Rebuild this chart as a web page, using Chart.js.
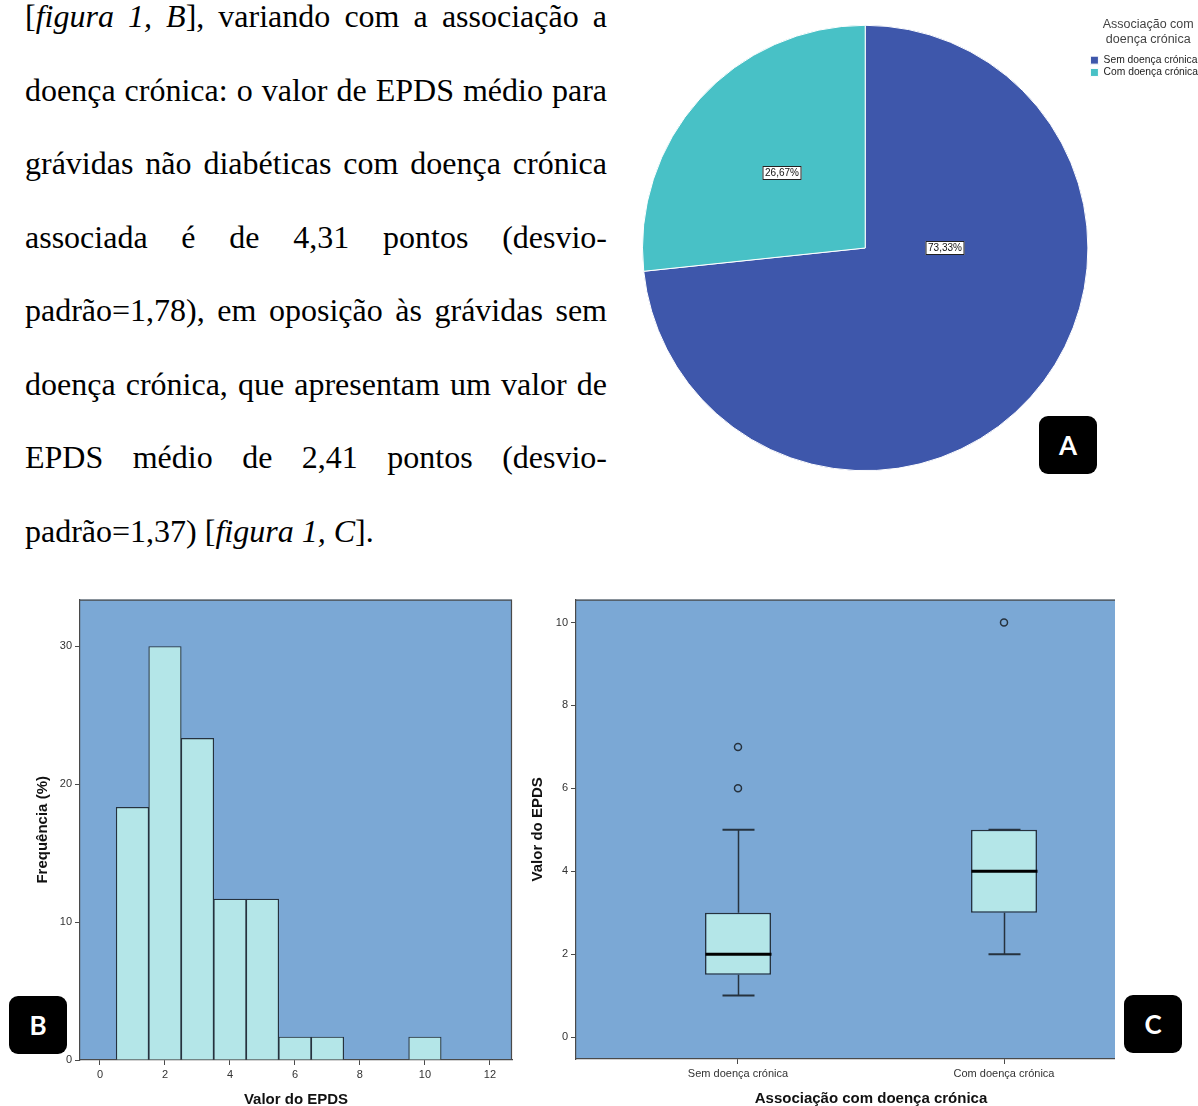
<!DOCTYPE html>
<html lang="pt">
<head>
<meta charset="utf-8">
<title>EPDS e doença crónica</title>
<script src="https://cdn.jsdelivr.net/npm/chart.js@4.4.1/dist/chart.umd.min.js"></script>
<style>
  html, body { margin: 0; padding: 0; background: #fff; }
  body { position: relative; width: 1198px; height: 1106px; overflow: hidden; }
  #texto { position: absolute; left: 25px; top: -20px; width: 582px;
           font-family: "Liberation Serif", "Times New Roman", serif; font-size: 32px;
           line-height: 73.57px; color: #000; }
  #texto .ln { height: 73.57px; text-align: justify; text-align-last: justify; }
  #texto .ln.fim { text-align: left; text-align-last: left; }
  .quadro { position: absolute; overflow: hidden; }
  .quadro canvas { display: block; }
  .badge { position: absolute; width: 58px; height: 58px; background: #000; border-radius: 9px;
           color: #fff; font: bold 26px Lato, "Open Sans", sans-serif;
           display: flex; align-items: center; justify-content: center; }
</style>
</head>
<body>

<div id="texto">
  <div class="ln">[<i>figura 1, B</i>], variando com a associação a</div>
  <div class="ln">doença crónica: o valor de EPDS médio para</div>
  <div class="ln">grávidas não diabéticas com doença crónica</div>
  <div class="ln">associada é de 4,31 pontos (desvio-</div>
  <div class="ln">padrão=1,78), em oposição às grávidas sem</div>
  <div class="ln">doença crónica, que apresentam um valor de</div>
  <div class="ln">EPDS médio de 2,41 pontos (desvio-</div>
  <div class="ln fim">padrão=1,37) [<i>figura 1, C</i>].</div>
</div>

<div class="quadro" style="left:636px; top:0px; width:572px; height:496px;">
  <canvas id="pizza" width="572" height="496"></canvas>
</div>
<div class="quadro" style="left:0px; top:590px; width:520px; height:520px;">
  <canvas id="histo" width="520" height="520"></canvas>
</div>
<div class="quadro" style="left:520px; top:590px; width:595px; height:520px;">
  <canvas id="caixas" width="678" height="520"></canvas>
</div>

<div class="badge" style="left:1039px; top:416px;">A</div>
<div class="badge" style="left:9px; top:996px;">B</div>
<div class="badge" style="left:1124px; top:995px;">C</div>

<script>
Chart.defaults.font.family = '"Liberation Sans", Arial, sans-serif';
Chart.defaults.color = '#333';
Chart.defaults.animation = false;

// pie: pregnant women with / without chronic disease
const chronicLabels = ['Sem doença crónica', 'Com doença crónica'];
const chronicCounts = [44, 16];

// histogram of EPDS scores (% of 60 women)
const epdsScores = [1, 2, 3, 4, 5, 6, 7, 8, 9, 10];
const epdsFreqPct = [18.33, 30, 23.33, 11.67, 11.67, 1.67, 1.67, 0, 0, 1.67];
const epdsTicks = [0, 2, 4, 6, 8, 10, 12];
const freqTicks = [0, 10, 20, 30];

// boxplot of EPDS by chronic disease
const groupNames = ['Sem doença crónica', 'Com doença crónica'];
const groupPos = [1, 2];
const whiskerLow = [1, 2];
const quart1 = [1.5, 3];
const medians = [2, 4];
const quart3 = [3, 5];
const whiskerHigh = [5, 5];
const outlierVals = [[6, 7], [10]];
const valueTicks = [0, 2, 4, 6, 8, 10];

const PIE_COLORS = ['#3e57ab', '#48c1c6'];
const PLOT_BG = '#7ba8d5';
const BAR_FILL = '#b4e6e8';
const EDGE = '#26323e';
const AXIS = '#4a4a4a';

// blue plot background + top/right frame lines (SPSS look)
const plotFrame = {
  id: 'plotFrame',
  beforeDraw(chart) {
    const a = chart.chartArea, ctx = chart.ctx;
    ctx.save();
    ctx.fillStyle = PLOT_BG;
    ctx.fillRect(a.left, a.top, a.right - a.left, a.bottom - a.top);
    ctx.restore();
  },
  afterDraw(chart) {
    const a = chart.chartArea, ctx = chart.ctx;
    ctx.save();
    ctx.strokeStyle = AXIS;
    ctx.lineWidth = 1.2;
    ctx.beginPath();
    ctx.moveTo(a.left, a.top + 0.5);
    ctx.lineTo(a.right - 0.5, a.top + 0.5);
    ctx.lineTo(a.right - 0.5, a.bottom);
    ctx.stroke();
    ctx.restore();
  }
};

function axisTitle(text, padding) {
  return { display: true, text: text, color: '#111', font: { size: 15, weight: 'bold' }, padding: padding };
}
function tickGrid() {
  return { display: true, drawOnChartArea: false, offset: false, tickLength: 5, color: AXIS, lineWidth: 1 };
}

// ---- A: pie ----
const pieLabels = {
  id: 'pieLabels',
  afterDatasetsDraw(chart, args, opts) {
    const ctx = chart.ctx;
    const total = chronicCounts.reduce((a, b) => a + b, 0);
    chart.getDatasetMeta(0).data.forEach((arc, i) => {
      const p = arc.getProps(['x', 'y', 'startAngle', 'endAngle', 'outerRadius'], true);
      const spot = opts.spots[i];
      const ang = spot.angle == null ? (p.startAngle + p.endAngle) / 2 : spot.angle;
      const px = Math.round(p.x + Math.cos(ang) * p.outerRadius * spot.radius);
      const py = Math.round(p.y + Math.sin(ang) * p.outerRadius * spot.radius);
      const txt = (chronicCounts[i] / total * 100).toFixed(2).replace('.', ',') + '%';
      ctx.save();
      ctx.font = '10px "Liberation Sans", Arial, sans-serif';
      const w = Math.round(ctx.measureText(txt).width + 5), h = 14;
      ctx.fillStyle = '#fff';
      ctx.fillRect(px - w / 2, py - h / 2, w, h);
      ctx.strokeStyle = '#222';
      ctx.lineWidth = 1;
      ctx.strokeRect(px - w / 2 + 0.5, py - h / 2 + 0.5, w - 1, h - 1);
      ctx.fillStyle = '#111';
      ctx.textAlign = 'center';
      ctx.textBaseline = 'middle';
      ctx.fillText(txt, px, py + 0.5);
      ctx.restore();
    });
  }
};

new Chart(document.getElementById('pizza'), {
  type: 'pie',
  data: {
    labels: chronicLabels,
    datasets: [{
      data: chronicCounts,
      backgroundColor: PIE_COLORS,
      borderColor: '#ffffff',
      borderWidth: 1,
      hoverOffset: 0,
      offset: 0
    }]
  },
  options: {
    responsive: false,
    events: [],
    layout: { padding: { top: 6, bottom: 6, left: 6, right: 0 } },
    plugins: {
      tooltip: { enabled: false },
      legend: {
        position: 'right',
        align: 'start',
        labels: { boxWidth: 8, boxHeight: 8, padding: 2, color: '#222', font: { size: 10.3 } },
        title: {
          display: true,
          text: ['Associação com', 'doença crónica'],
          color: '#444',
          font: { size: 12.5 },
          padding: { top: 12, bottom: 20 }
        }
      },
      pieLabels: { spots: [{ angle: 0, radius: 0.36 }, { angle: null, radius: 0.5 }] }
    }
  },
  plugins: [pieLabels]
});

// ---- B: histogram ----
new Chart(document.getElementById('histo'), {
  type: 'bar',
  data: {
    datasets: [{
      data: epdsScores.map((s, i) => ({ x: s, y: epdsFreqPct[i] })).filter(p => p.y > 0),
      backgroundColor: BAR_FILL,
      borderColor: EDGE,
      borderWidth: 1.2,
      barPercentage: 1,
      categoryPercentage: 1
    }]
  },
  options: {
    responsive: false,
    events: [],
    layout: { padding: { top: 9, right: 8, left: 0, bottom: 0 } },
    plugins: { legend: { display: false }, tooltip: { enabled: false } },
    scales: {
      x: {
        type: 'linear', min: -0.615, max: 12.68, offset: false,
        afterBuildTicks: s => { s.ticks = epdsTicks.map(v => ({ value: v })); },
        afterFit: s => { s.height = 50; },
        grid: tickGrid(),
        border: { display: true, color: AXIS, width: 1.2 },
        ticks: { font: { size: 11 }, color: '#333', padding: 3, maxRotation: 0 },
        title: axisTitle('Valor do EPDS', { top: 0, bottom: 1.6 })
      },
      y: {
        type: 'linear', min: 0, max: 33.4,
        afterBuildTicks: s => { s.ticks = freqTicks.map(v => ({ value: v })); },
        afterFit: s => { s.width = 80; },
        grid: tickGrid(),
        border: { display: true, color: AXIS, width: 1.2 },
        ticks: { font: { size: 11 }, color: '#333', padding: 3 },
        title: axisTitle('Frequência (%)', { top: 33.6, bottom: 0 })
      }
    }
  },
  plugins: [plotFrame]
});

// ---- C: boxplot ----
const boxWhiskers = {
  id: 'boxWhiskers',
  afterDatasetsDraw(chart) {
    const xs = chart.scales.x, ys = chart.scales.y, ctx = chart.ctx;
    const boxes = chart.getDatasetMeta(0).data;
    const capHalf = 16;
    ctx.save();
    groupPos.forEach((g, i) => {
      const cx = Math.round(xs.getPixelForValue(g)) + 0.5;
      const half = boxes[i].width / 2;
      const yLo = ys.getPixelForValue(whiskerLow[i]);
      const yQ1 = ys.getPixelForValue(quart1[i]);
      const yQ3 = ys.getPixelForValue(quart3[i]);
      const yHi = ys.getPixelForValue(whiskerHigh[i]);
      const yMed = ys.getPixelForValue(medians[i]);
      ctx.strokeStyle = EDGE;
      ctx.lineWidth = 1.5;
      ctx.beginPath();
      ctx.moveTo(cx, yQ1); ctx.lineTo(cx, yLo);
      ctx.moveTo(cx, yQ3); ctx.lineTo(cx, yHi);
      ctx.stroke();
      ctx.lineWidth = 2;
      ctx.beginPath();
      ctx.moveTo(cx - capHalf, yLo); ctx.lineTo(cx + capHalf, yLo);
      ctx.moveTo(cx - capHalf, yHi); ctx.lineTo(cx + capHalf, yHi);
      ctx.stroke();
      ctx.strokeStyle = '#000';
      ctx.lineWidth = 3;
      ctx.beginPath();
      ctx.moveTo(cx - half, yMed); ctx.lineTo(cx + half, yMed);
      ctx.stroke();
    });
    ctx.restore();
  }
};

new Chart(document.getElementById('caixas'), {
  type: 'bar',
  data: {
    datasets: [{
      type: 'bar',
      data: groupPos.map((x, i) => ({ x: x, y: [quart1[i], quart3[i]] })),
      backgroundColor: BAR_FILL,
      borderColor: EDGE,
      borderWidth: 1.5,
      borderSkipped: false,
      barPercentage: 0.248,
      categoryPercentage: 1
    }, {
      type: 'scatter',
      data: outlierVals.flatMap((vals, i) => vals.map(v => ({ x: groupPos[i], y: v }))),
      pointRadius: 3.5,
      pointBorderWidth: 1.5,
      pointBorderColor: EDGE,
      pointBackgroundColor: 'rgba(0,0,0,0)'
    }]
  },
  options: {
    responsive: false,
    events: [],
    layout: { padding: { top: 9, right: 32, left: 0, bottom: 0 } },
    plugins: { legend: { display: false }, tooltip: { enabled: false } },
    scales: {
      x: {
        type: 'linear', min: 0.391, max: 2.609, offset: false,
        afterBuildTicks: s => { s.ticks = groupPos.map(v => ({ value: v })); },
        afterFit: s => { s.height = 51; },
        grid: tickGrid(),
        border: { display: true, color: AXIS, width: 1.2 },
        ticks: {
          font: { size: 11 }, color: '#333', padding: 3, maxRotation: 0, autoSkip: false,
          callback: v => groupNames[groupPos.indexOf(v)]
        },
        title: axisTitle('Associação com doença crónica', { top: 0, bottom: 2.6 })
      },
      y: {
        type: 'linear', min: -0.53, max: 10.554,
        afterBuildTicks: s => { s.ticks = valueTicks.map(v => ({ value: v })); },
        afterFit: s => { s.width = 56; },
        grid: tickGrid(),
        border: { display: true, color: AXIS, width: 1.2 },
        ticks: { font: { size: 11 }, color: '#333', padding: 3 },
        title: axisTitle('Valor do EPDS', { top: 8.6, bottom: 0 })
      }
    }
  },
  plugins: [plotFrame, boxWhiskers]
});
</script>
</body>
</html>
